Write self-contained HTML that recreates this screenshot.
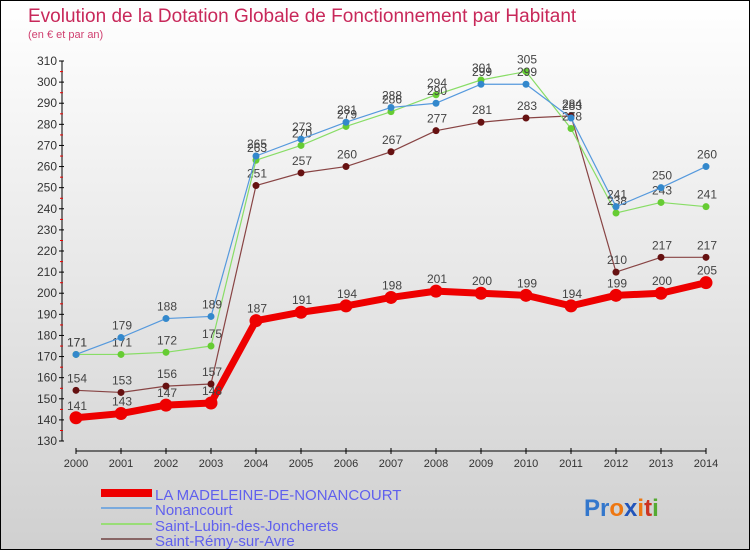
<!DOCTYPE html>
<html><head><meta charset="utf-8"><style>
body{margin:0;width:750px;height:550px;overflow:hidden;font-family:"Liberation Sans",sans-serif}
#wrap{position:relative;width:748px;height:548px;border:1px solid #000;background:linear-gradient(#ffffff,#d0d0d0)}
</style></head><body>
<div id="wrap">
<svg id="c" width="748" height="548" xmlns="http://www.w3.org/2000/svg">
<text x="27" y="21" font-size="19" fill="#c8285a">Evolution de la Dotation Globale de Fonctionnement par Habitant</text>
<text x="27" y="37" font-size="11" fill="#d04070">(en € et par an)</text>
<g id="axes"></g><g id="series"></g>
<g>
<rect x="100" y="488" width="51" height="8" fill="#ee0000"/>
<rect x="100" y="506" width="51" height="2" fill="#7aaadd"/>
<rect x="100" y="522" width="51" height="2" fill="#99dd77"/>
<rect x="100" y="537" width="51" height="2" fill="#886666"/>
<g font-size="15" fill="#6060ee">
<text x="154" y="499">LA MADELEINE-DE-NONANCOURT</text>
<text x="154" y="514">Nonancourt</text>
<text x="154" y="530">Saint-Lubin-des-Joncherets</text>
<text x="154" y="545">Saint-Rémy-sur-Avre</text>
</g></g>
<g font-size="24" font-weight="bold">
<text x="583" y="515"><tspan fill="#3377cc">Pr</tspan><tspan fill="#ee7711">o</tspan><tspan fill="#2255bb">x</tspan><tspan fill="#ee7711">i</tspan><tspan fill="#cc3322">t</tspan><tspan fill="#55aa33">i</tspan></text>
</g>
</svg></div>
<script>
const years=["2000","2001","2002","2003","2004","2005","2006","2007","2008","2009","2010","2011","2012","2013","2014"];
const yTicks=[130,140,150,160,170,180,190,200,210,220,230,240,250,260,270,280,290,300,310];
const madeleine=[141,143,147,148,187,191,194,198,201,200,199,194,199,200,205];
const nonancourt=[171,179,188,189,265,273,281,288,290,299,299,283,241,250,260];
const saintLubin=[171,171,172,175,263,270,279,286,294,301,305,278,238,243,241];
const saintRemy=[154,153,156,157,251,257,260,267,277,281,283,284,210,217,217];
const NS="http://www.w3.org/2000/svg";
const xs=i=>75+i*45, ys=v=>60+(310-v)*380/180;
function mk(t,a,p){const e=document.createElementNS(NS,t);for(const k in a)e.setAttribute(k,a[k]);p.appendChild(e);return e;}
const ax=document.getElementById('axes');
let l=mk('line',{x1:61,y1:60,x2:61,y2:440,stroke:'#000'},ax);


l=mk('line',{x1:75,y1:450,x2:705,y2:450,stroke:'#000'},ax);


yTicks.forEach(v=>{const y=ys(v);mk('line',{x1:58,y1:y,x2:63,y2:y,stroke:'#000'},ax);
 if(v<310)mk('line',{x1:59,y1:y-10.5,x2:62,y2:y-10.5,stroke:'#e00'},ax);
 const t=mk('text',{x:56,y:y+4,'font-size':12,fill:'#333','text-anchor':'end'},ax);t.textContent=v;
 
 });
years.forEach((yr,i)=>{mk('line',{x1:xs(i),y1:447,x2:xs(i),y2:453,stroke:'#000'},ax);
 const t=mk('text',{x:xs(i),y:466,'font-size':11,fill:'#333','text-anchor':'middle'},ax);t.textContent=yr;
 
 });
const sg=document.getElementById('series');
function draw(data,name,color,dot,w,r,labelColor){
 const g=mk('g',{},sg);
 
 
 mk('polyline',{points:data.map((v,i)=>xs(i)+','+ys(v)).join(' '),fill:'none',stroke:color,'stroke-width':w,'stroke-linejoin':'round'},g);
 data.forEach((v,i)=>{const c=mk('circle',{cx:xs(i),cy:ys(v),r:r,fill:dot},g);
  
  
  const t=mk('text',{x:xs(i)+1,y:ys(v)-8,'font-size':12,fill:'#444','text-anchor':'middle'},g);t.textContent=v;
  
  });
}
draw(saintRemy,'saint-remy','#884444','#661111',1.2,3.5);
draw(saintLubin,'saint-lubin','#88dd66','#66cc33',1.2,3.5);
draw(nonancourt,'nonancourt','#5599dd','#3388cc',1.2,3.5);
draw(madeleine,'madeleine','#ee0000','#ee0000',7,6.5);
</script>
</body></html>
